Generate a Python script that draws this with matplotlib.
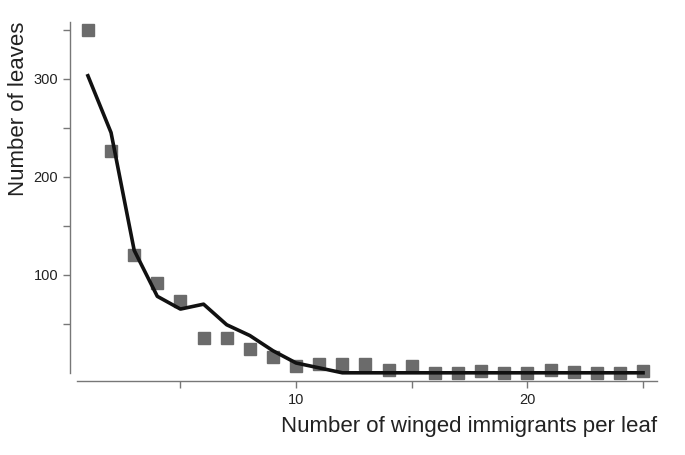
import matplotlib.pyplot as plt

# data
x_obs = list(range(1, 26))
leaves_obs = [350, 226, 120, 92, 73, 35, 35, 24.5, 16, 7, 9, 9, 9, 2.5, 6.5,
              0, 0, 1.5, 0, 0, 3, 0.5, 0, 0, 1.5]
x_fit = list(range(1, 26))
leaves_fit = [303, 245, 125, 78, 65, 70, 49, 38, 22.5, 10, 5, 0, 0, 0, 0,
              0, 0, 0, 0, 0, 0, 0, 0, 0, 0]

plt.rcParams['font.family'] = ['Liberation Sans', 'DejaVu Sans']

fig = plt.figure(figsize=(6.85, 4.55), dpi=100)
ax = fig.add_axes([0.102, 0.163, 0.857, 0.789])

ax.plot(x_obs, leaves_obs, 's', color='#6b6b6b', markersize=8.6, zorder=2)
ax.plot(x_fit, leaves_fit, '-', color='#111111', lw=2.6, zorder=3)

ax.set_xlim(0.22, 25.6)
ax.set_ylim(-8.2, 358)

for s in ['top', 'right']:
    ax.spines[s].set_visible(False)
for s in ['left', 'bottom']:
    ax.spines[s].set_color('#777777')
    ax.spines[s].set_linewidth(1.0)
ax.spines['bottom'].set_bounds(0.52, 25.6)
ax.spines['left'].set_bounds(0, 358)

ax.set_xticks([5, 10, 15, 20, 25])
ax.set_xticklabels(['', '10', '', '20', ''])
ax.set_yticks([50, 100, 150, 200, 250, 300, 350])
ax.set_yticklabels(['', '100', '', '200', '', '300', ''])
ax.tick_params(colors='#777777', length=5, width=1.0, labelsize=10.5,
               labelcolor='#222222')

ax.set_xlabel('Number of winged immigrants per leaf', loc='right',
              fontsize=16, color='#222222', labelpad=7)
ax.set_ylabel('Number of leaves', loc='top', fontsize=16,
              color='#222222', labelpad=3)

fig.savefig('out.png', dpi=100)
